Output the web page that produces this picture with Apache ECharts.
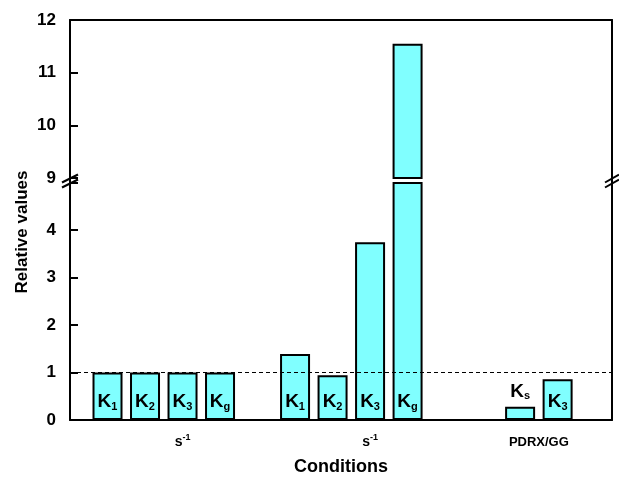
<!DOCTYPE html>
<html><head><meta charset="utf-8">
<script src="https://cdn.jsdelivr.net/npm/echarts@6/dist/echarts.min.js"></script>
<style>html,body{margin:0;padding:0;background:#fff}#c{width:619px;height:479px}</style>
</head><body><div id="c"></div>
<script>
// ---- data ----
const categories = ['K1','K2','K3','Kg','', 'K1','K2','K3','Kg','','', 'Ks','K3'];
const values     = [1.00,1.00,1.00,1.00,null, 1.39,0.94,3.74,11.55,null,null, 0.28,0.86];
const upperTicks = [9,10,11,12];
const lowerTicks = [0,1,2,3,4];
const groupLabels = ['s^-1','s^-1','PDRX/GG'];
const groupLabelAt = [2, 7, 11.5];
const referenceLine = 1;
const upperRange = [upperTicks[0], upperTicks[upperTicks.length - 1]];
const lowerRange = [lowerTicks[0], 4.99];

// ---- layout ----
const FONT = '"Liberation Sans", Arial, sans-serif';
const L = 70, R = 612, T = 20, B = 420, UB = 178, LT = 183;
const W = 619, H = 479;
const xRange = [-1, 13.45];

const chart = echarts.init(document.getElementById('c'), null, {renderer: 'canvas'});

function kLabel(name) { return '{k|K}{s|' + name.slice(1) + '}'; }
function groupLabel(v) {
  const i = groupLabelAt.indexOf(v);
  if (i < 0) return '';
  const t = groupLabels[i];
  const m = t.match(/^(.*)\^(.*)$/);
  return m ? '{b|' + m[1] + '}{sup|' + m[2] + '}' : '{p|' + t + '}';
}

const lowerData = categories.map((c, i) => values[i] == null ? null : {
  value: [i, values[i]],
  name: c,
  label: values[i] < 0.5 ? {position: 'top', distance: 5} : {position: 'insideBottom', distance: 8}
}).filter(d => d);
const upperData = categories.map((c, i) => values[i] == null || values[i] < upperRange[0] ? null : {
  value: [i, values[i]], name: c
}).filter(d => d);

const lineStyle = {color: '#000', width: 2};
const barStyle = {color: '#80ffff', borderColor: '#000', borderWidth: 2};

function breakMarks(x, len) {
  const els = [];
  const yc = (UB + LT) / 2;
  els.push({type: 'line', shape: {x1: x, y1: UB, x2: x, y2: LT}, style: {stroke: '#000', lineWidth: 2}});
  els.push({type: 'line', shape: {x1: x - len, y1: yc + 2, x2: x + len, y2: yc - 6}, style: {stroke: '#000', lineWidth: 2}});
  els.push({type: 'line', shape: {x1: x - len, y1: yc + 7, x2: x + len, y2: yc - 1}, style: {stroke: '#000', lineWidth: 2}});
  return els;
}

function yAxisDef(grid, pos, range, ticks, withLabels) {
  return {type: 'value', gridIndex: grid, position: pos, min: range[0], max: range[1], interval: 1,
    splitLine: {show: false},
    axisLine: {show: true, onZero: false, lineStyle: {color: '#000', width: 2}},
    axisTick: withLabels ? {show: true, inside: true, length: 8, lineStyle: {color: '#000', width: 2}} : {show: false},
    axisLabel: withLabels ? {show: true, fontFamily: FONT, fontSize: 17, fontWeight: 'bold', color: '#000', margin: 14,
      formatter: v => ticks.indexOf(v) >= 0 ? String(v) : ''} : {show: false}};
}

chart.setOption({
  animation: false,
  backgroundColor: '#fff',
  textStyle: {fontFamily: FONT},
  grid: [
    {left: L, right: W - R, top: T, height: UB - T, outerBoundsMode: 'none', containLabel: false},
    {left: L, right: W - R, top: LT, height: B - LT, outerBoundsMode: 'none', containLabel: false}
  ],
  xAxis: [
    {type: 'value', gridIndex: 0, position: 'top', min: xRange[0], max: xRange[1],
     axisLine: {show: true, onZero: false, lineStyle}, axisTick: {show: false}, axisLabel: {show: false}, splitLine: {show: false}},
    {type: 'value', gridIndex: 1, position: 'bottom', min: xRange[0], max: xRange[1],
     axisLine: {show: true, onZero: false, lineStyle}, axisTick: {show: false}, splitLine: {show: false},
     axisLabel: {show: true, customValues: groupLabelAt, formatter: groupLabel, margin: 13,
       rich: {
         b: {fontFamily: FONT, fontSize: 14, fontWeight: 'bold', color: '#000', lineHeight: 18},
         sup: {fontFamily: FONT, fontSize: 9, fontWeight: 'bold', color: '#000', verticalAlign: 'top', lineHeight: 10},
         p: {fontFamily: FONT, fontSize: 13, fontWeight: 'bold', color: '#000', lineHeight: 18}
       }},
     name: 'Conditions', nameLocation: 'middle', nameGap: 38,
     nameTextStyle: {fontFamily: FONT, fontSize: 18, fontWeight: 'bold', color: '#000'}}
  ],
  yAxis: [
    yAxisDef(0, 'left', upperRange, upperTicks, true),
    yAxisDef(0, 'right', upperRange, upperTicks, false),
    yAxisDef(1, 'left', lowerRange, lowerTicks, true),
    yAxisDef(1, 'right', lowerRange, lowerTicks, false)
  ],
  series: [
    {type: 'bar', xAxisIndex: 0, yAxisIndex: 0, data: upperData, barWidth: 30, clip: true,
     itemStyle: barStyle, label: {show: false}},
    {type: 'bar', xAxisIndex: 1, yAxisIndex: 2, data: lowerData, barWidth: 30, clip: true,
     itemStyle: barStyle,
     label: {show: true, formatter: p => kLabel(p.name), color: '#000',
       rich: {
         k: {fontFamily: FONT, fontSize: 19, fontWeight: 'bold', color: '#000', lineHeight: 20},
         s: {fontFamily: FONT, fontSize: 11, fontWeight: 'bold', color: '#000', verticalAlign: 'bottom', lineHeight: 14}
       }},
     markLine: {silent: true, symbol: 'none', label: {show: false},
       lineStyle: {color: '#000', type: [4, 3], width: 1},
       data: [{yAxis: referenceLine}]}}
  ],
  graphic: [
    {type: 'text', x: 22, y: 232, rotation: Math.PI / 2,
     style: {text: 'Relative values', fontFamily: FONT, fontSize: 17, fontWeight: 'bold', fill: '#000', align: 'center', verticalAlign: 'middle'}},
    ...breakMarks(L, 8),
    ...breakMarks(R, 7)
  ]
});
</script></body></html>
